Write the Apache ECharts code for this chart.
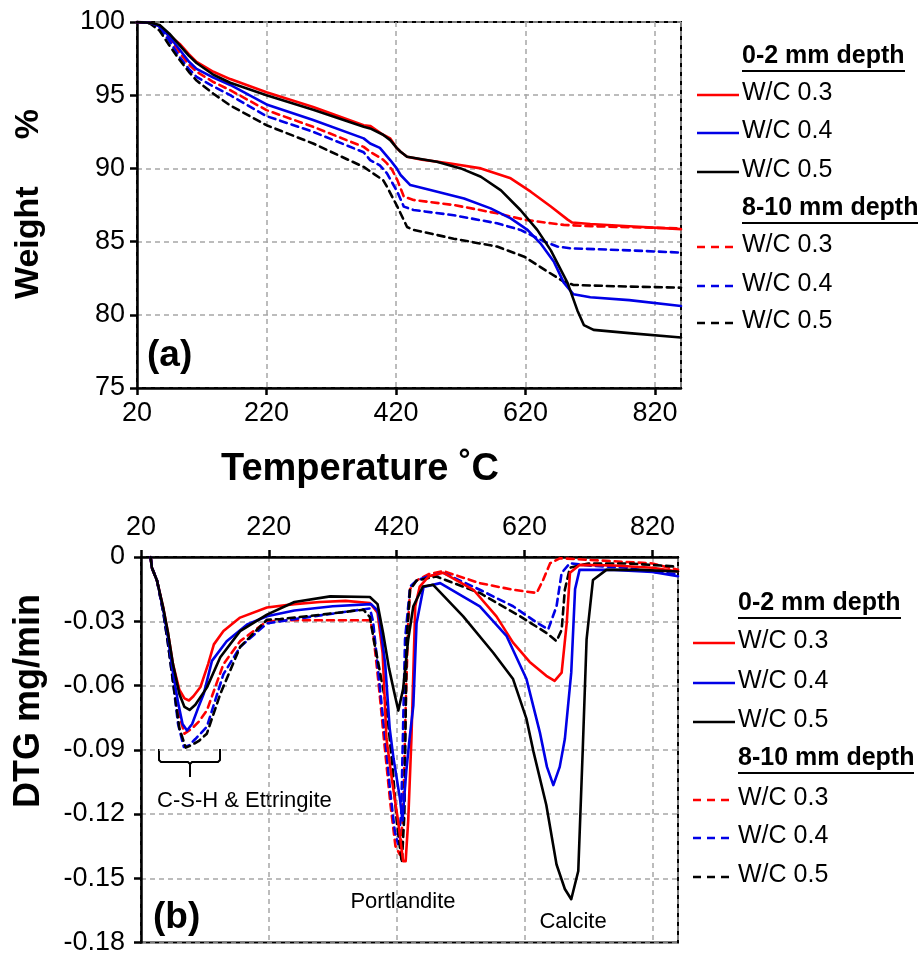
<!DOCTYPE html>
<html><head><meta charset="utf-8">
<script src="https://cdn.jsdelivr.net/npm/echarts@6/dist/echarts.min.js"></script>
<style>html,body{margin:0;padding:0;background:#fff}#c{width:921px;height:956px}</style>
</head><body><div id="c"></div>
<script>
// ---------- (a) TGA weight % ----------
const tgaT_s03 = [20,40,55,70,86,100,112,138,164,220,292,370,380,400,411,421,427,437,460,504,551,597,628,659,685,692,720,780,860];
const tgaV_s03 = [100,99.95,99.75,99.1,98.5,97.8,97.27,96.6,96.1,95.2,94.2,92.95,92.9,92.3,92.05,91.4,91.14,90.8,90.6,90.34,90.0,89.32,88.41,87.4,86.5,86.3,86.2,86.05,85.85];
const tgaT_s04 = [20,40,55,70,86,100,112,138,164,220,292,370,380,395,411,421,427,442,473,525,566,597,623,643,664,679,694,720,780,860];
const tgaV_s04 = [100,99.95,99.7,99.0,98.1,97.3,96.8,96.2,95.7,94.37,93.3,92.05,91.7,91.4,90.57,90.0,89.55,88.86,88.52,87.95,87.27,86.59,85.8,84.88,83.6,82.2,81.4,81.2,81.0,80.6];
const tgaT_s05 = [20,40,55,70,86,100,112,138,164,220,292,370,380,400,411,421,427,437,483,520,551,582,612,638,659,685,700,710,725,780,860];
const tgaV_s05 = [100,99.95,99.8,99.2,98.4,97.7,97.2,96.4,95.85,95.0,94.0,92.85,92.73,92.3,91.93,91.4,91.14,90.8,90.46,90.0,89.43,88.5,87.16,85.8,84.4,82.16,80.3,79.3,78.97,78.75,78.45];
const tgaT_d03 = [20,40,55,70,86,100,112,138,164,220,292,370,380,400,406,414,422,432,447,509,576,618,659,679,720,860];
const tgaV_d03 = [100,99.95,99.65,98.9,97.9,97.1,96.6,95.9,95.34,93.98,92.84,91.47,91.14,90.6,90.34,89.9,89.2,88.07,87.84,87.5,86.93,86.5,86.25,86.14,86.05,85.9];
const tgaT_d04 = [20,40,55,70,86,100,112,138,164,220,292,370,380,395,406,422,432,447,509,576,612,649,669,690,780,860];
const tgaV_d04 = [100,99.95,99.6,98.7,97.6,96.8,96.25,95.6,95.0,93.57,92.5,91.1,90.57,90.2,89.66,88.4,87.39,87.16,86.8,86.25,85.8,85.0,84.66,84.54,84.4,84.25];
const tgaT_d05 = [20,40,55,70,86,100,112,138,164,220,292,370,380,400,406,422,437,447,509,576,618,654,679,694,760,860];
const tgaV_d05 = [100,99.9,99.4,98.4,97.4,96.6,96.0,95.1,94.3,92.95,91.7,90.1,89.8,89.2,88.75,87.39,86.0,85.8,85.2,84.66,83.97,82.95,82.26,82.04,81.95,81.85];

// ---------- (b) DTG mg/min ----------
const dtgT_s03 = [35,37,45,55,62,70,80,88,95,102,113,125,134,149,175,217,260,300,340,378,390,398,404,413,422,430,434,438,443,446,449,456,470,493,540,576,602,628,654,667,678,686,691,706,760,820,860];
const dtgV_s03 = [0,-0.005,-0.011,-0.024,-0.035,-0.05,-0.062,-0.066,-0.067,-0.065,-0.0607,-0.05,-0.0408,-0.0346,-0.0283,-0.0236,-0.022,-0.021,-0.0205,-0.0215,-0.026,-0.045,-0.085,-0.105,-0.123,-0.142,-0.142,-0.123,-0.085,-0.054,-0.023,-0.0138,-0.009,-0.0074,-0.0153,-0.0277,-0.040,-0.049,-0.0555,-0.0578,-0.054,-0.0306,-0.0074,-0.0037,-0.004,-0.005,-0.0068];
const dtgT_s04 = [35,37,45,55,62,70,78,85,92,100,110,118,131,154,186,217,260,320,380,390,394,402,409,415,425,429,435,440,446,451,462,488,550,592,623,644,655,665,675,683,693,699,706,760,820,860];
const dtgV_s04 = [0,-0.005,-0.011,-0.025,-0.037,-0.054,-0.068,-0.078,-0.081,-0.078,-0.07,-0.064,-0.0485,-0.0393,-0.0315,-0.0277,-0.025,-0.023,-0.022,-0.025,-0.031,-0.05,-0.08,-0.094,-0.1127,-0.123,-0.1,-0.085,-0.0694,-0.031,-0.014,-0.0122,-0.023,-0.037,-0.057,-0.082,-0.098,-0.1065,-0.098,-0.085,-0.054,-0.015,-0.006,-0.006,-0.007,-0.009];
const dtgT_s05 = [35,37,45,55,62,70,80,88,96,105,123,144,175,217,260,316,378,390,399,408,415,422.5,430,438,446,461,477,524,571,602,623,634,654,670,683,693,704,711,717,727,748,800,860];
const dtgV_s05 = [0,-0.005,-0.011,-0.024,-0.035,-0.05,-0.064,-0.070,-0.0714,-0.069,-0.061,-0.0468,-0.0346,-0.0269,-0.021,-0.0184,-0.0187,-0.022,-0.036,-0.052,-0.0617,-0.0717,-0.0617,-0.0385,-0.023,-0.0138,-0.013,-0.0277,-0.0447,-0.057,-0.0756,-0.091,-0.1158,-0.1436,-0.155,-0.1598,-0.1466,-0.09,-0.0385,-0.0107,-0.006,-0.006,-0.0068];
const dtgT_d03 = [35,37,45,55,62,70,78,88,100,110,123,149,175,217,260,300,378,383,392,400,410,418,425,430,434,438,441,451,470,493,550,602,639,649,660,675,700,760,820,860];
const dtgV_d03 = [0,-0.005,-0.011,-0.025,-0.038,-0.056,-0.072,-0.0825,-0.08,-0.077,-0.0717,-0.05,-0.0393,-0.030,-0.0295,-0.0295,-0.0295,-0.035,-0.06,-0.085,-0.115,-0.135,-0.139,-0.12,-0.07,-0.03,-0.015,-0.011,-0.008,-0.0066,-0.0122,-0.0153,-0.0168,-0.0107,-0.0029,-0.0006,-0.001,-0.002,-0.003,-0.006];
const dtgT_d04 = [35,37,45,55,62,70,78,87,95,105,123,149,175,217,260,330,378,383,394,402,410,417,422,427,433,441,451,470,493,550,602,639,657,670,678,691,720,780,820,860];
const dtgV_d04 = [0,-0.005,-0.011,-0.026,-0.04,-0.058,-0.078,-0.0887,-0.088,-0.085,-0.0793,-0.0547,-0.042,-0.031,-0.029,-0.026,-0.024,-0.03,-0.062,-0.085,-0.11,-0.128,-0.134,-0.12,-0.0385,-0.0138,-0.011,-0.009,-0.0074,-0.0153,-0.023,-0.0306,-0.0338,-0.023,-0.0074,-0.0029,-0.004,-0.005,-0.007,-0.008];
const dtgT_d05 = [35,37,45,55,62,70,80,90,98,110,123,144,175,217,238,300,368,378,385,394,404,409,414,420,428,432,435.6,440.8,451,482,550,613,654,670,678,683,691,720,780,860];
const dtgV_d05 = [0,-0.005,-0.011,-0.026,-0.04,-0.058,-0.08,-0.089,-0.088,-0.086,-0.0825,-0.064,-0.042,-0.0293,-0.029,-0.027,-0.0246,-0.028,-0.04,-0.054,-0.07,-0.0848,-0.1,-0.1233,-0.1428,-0.12,-0.0385,-0.0153,-0.011,-0.0091,-0.0168,-0.0277,-0.0354,-0.0393,-0.034,-0.0153,-0.005,-0.003,-0.003,-0.0045];

const seriesNames = ['W/C 0.3','W/C 0.4','W/C 0.5'];
const groupNames = ['0-2 mm depth','8-10 mm depth'];

const RED = '#ff0000', BLUE = '#0000e6', BLACK = '#000000';
const FONT = 'Liberation Sans, Arial, sans-serif';
const zip = (a,b) => a.map((v,i)=>[v,b[i]]);

function mk(name, T, V, color, dashed, idx){
  return {name, type:'line', xAxisIndex:idx, yAxisIndex:idx, data:zip(T,V),
    showSymbol:false, symbol:'none', smooth:false,
    lineStyle:{color, width:2.6, type: dashed?[7,5]:'solid', join:'round', cap:'round'}, silent:true, animation:false, z: dashed?3:4};
}

const gridLine = {show:true, lineStyle:{color:'#a6a6a6', width:1.5, type:[5,4]}};
const axLbl = {color:'#000', fontSize:27, fontFamily:FONT};

function legendGraphics(x0, yHead1, yItems1, yHead2, yItems2){
  const g=[]; const cols=[RED,BLUE,BLACK];
  const head=(y,t,w)=>{g.push({type:'text',left:x0+45,top:y-14,style:{text:t,font:'bold 25px '+FONT,fill:'#000'}});
    g.push({type:'line',shape:{x1:x0+45,y1:y+13,x2:x0+45+w,y2:y+13},style:{stroke:'#000',lineWidth:2}});};
  const item=(y,t,c,d)=>{g.push({type:'line',shape:{x1:x0,y1:y,x2:x0+42,y2:y},style:{stroke:c,lineWidth:2.4,lineDash:d?[8,6]:null}});
    g.push({type:'text',left:x0+45,top:y-14,style:{text:t,font:'25px '+FONT,fill:'#000'}});};
  head(yHead1, groupNames[0], 163);
  yItems1.forEach((y,i)=>item(y,seriesNames[i],cols[i],false));
  head(yHead2, groupNames[1], 176);
  yItems2.forEach((y,i)=>item(y,seriesNames[i],cols[i],true));
  return g;
}

const chart = echarts.init(document.getElementById('c'), null, {renderer:'canvas'});
const option = {
  backgroundColor:'#fff',
  animation:false,
  grid:[
    {left:137, top:22, width:544, height:366, show:true, borderColor:'#000', borderWidth:2, backgroundColor:'transparent'},
    {left:141, top:557, width:537, height:386, show:true, borderColor:'#000', borderWidth:2, backgroundColor:'transparent'}
  ],
  xAxis:[
    {type:'value', gridIndex:0, min:20, max:860, interval:200,
     axisLine:{show:true,onZero:false,lineStyle:{color:'#000',width:2.5}},
     axisTick:{show:true,inside:false,length:7,lineStyle:{color:'#000',width:2.5}},
     axisLabel:{...axLbl, margin:12, showMaxLabel:false},
     splitLine:gridLine},
    {type:'value', gridIndex:1, position:'top', min:20, max:860, interval:200,
     axisLine:{show:true,onZero:false,lineStyle:{color:'#000',width:2.5}},
     axisTick:{show:true,inside:false,length:7,lineStyle:{color:'#000',width:2.5}},
     axisLabel:{...axLbl, margin:16, showMaxLabel:false},
     splitLine:gridLine}
  ],
  yAxis:[
    {type:'value', gridIndex:0, min:75, max:100, interval:5,
     axisLine:{show:true,onZero:false,lineStyle:{color:'#000',width:2.5}},
     axisTick:{show:true,length:7,lineStyle:{color:'#000',width:2.5}},
     axisLabel:{...axLbl, margin:12},
     splitLine:gridLine},
    {type:'value', gridIndex:1, min:-0.18, max:0, interval:0.03,
     axisLine:{show:true,onZero:false,lineStyle:{color:'#000',width:2.5}},
     axisTick:{show:true,length:7,lineStyle:{color:'#000',width:2.5}},
     axisLabel:{...axLbl, margin:16, formatter:v=>Math.abs(v)<1e-9?'0':v.toFixed(2)},
     splitLine:gridLine}
  ],
  series:[
    mk('a 0-2 0.3', tgaT_s03, tgaV_s03, RED, false, 0),
    mk('a 0-2 0.4', tgaT_s04, tgaV_s04, BLUE, false, 0),
    mk('a 0-2 0.5', tgaT_s05, tgaV_s05, BLACK, false, 0),
    mk('a 8-10 0.3', tgaT_d03, tgaV_d03, RED, true, 0),
    mk('a 8-10 0.4', tgaT_d04, tgaV_d04, BLUE, true, 0),
    mk('a 8-10 0.5', tgaT_d05, tgaV_d05, BLACK, true, 0),
    mk('b 0-2 0.3', dtgT_s03, dtgV_s03, RED, false, 1),
    mk('b 0-2 0.4', dtgT_s04, dtgV_s04, BLUE, false, 1),
    mk('b 0-2 0.5', dtgT_s05, dtgV_s05, BLACK, false, 1),
    mk('b 8-10 0.3', dtgT_d03, dtgV_d03, RED, true, 1),
    mk('b 8-10 0.4', dtgT_d04, dtgV_d04, BLUE, true, 1),
    mk('b 8-10 0.5', dtgT_d05, dtgV_d05, BLACK, true, 1)
  ],
  graphic:[
    {type:'text', x:29, y:204, rotation:Math.PI/2, style:{text:'Weight     %', font:'bold 34px '+FONT, fill:'#000', align:'center', verticalAlign:'middle'}},
    {type:'text', x:360, y:470, style:{text:'Temperature ˚C', font:'bold 38px '+FONT, fill:'#000', align:'center', verticalAlign:'middle'}},
    {type:'text', x:29, y:701, rotation:Math.PI/2, style:{text:'DTG mg/min', font:'bold 36px '+FONT, fill:'#000', align:'center', verticalAlign:'middle'}},
    {type:'text', x:147, y:356, style:{text:'(a)', font:'bold 37px '+FONT, fill:'#000', verticalAlign:'middle'}},
    {type:'text', x:153, y:918, style:{text:'(b)', font:'bold 37px '+FONT, fill:'#000', verticalAlign:'middle'}},
    {type:'text', x:157, y:801, style:{text:'C-S-H & Ettringite', font:'22px '+FONT, fill:'#000', verticalAlign:'middle'}},
    {type:'text', x:403, y:902, style:{text:'Portlandite', font:'22px '+FONT, fill:'#000', align:'center', verticalAlign:'middle'}},
    {type:'text', x:573, y:922, style:{text:'Calcite', font:'22px '+FONT, fill:'#000', align:'center', verticalAlign:'middle'}},
    {type:'polyline', shape:{points:[[159,749],[159,760],[161,762],[188,762],[190,764],[190,777]]}, style:{stroke:'#000',lineWidth:2,fill:null}},
    {type:'polyline', shape:{points:[[220,749],[220,760],[218,762],[192,762],[190,764]]}, style:{stroke:'#000',lineWidth:2,fill:null}},
    ...legendGraphics(697, 58, [95,133,172], 210, [247,286,323]),
    ...legendGraphics(693, 605, [643,683,722], 760, [800,838,877])
  ]
};
chart.setOption(option);
</script>
</body></html>
